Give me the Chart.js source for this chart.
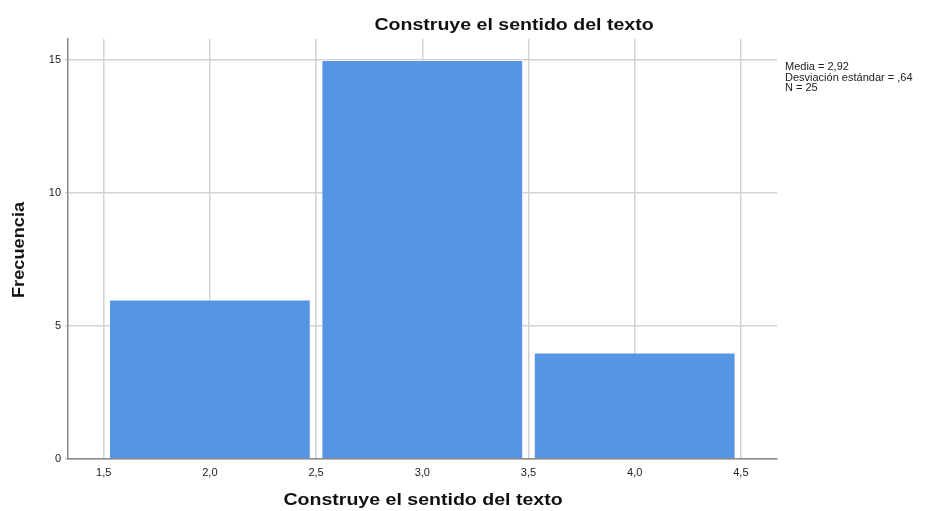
<!DOCTYPE html>
<html>
<head>
<meta charset="utf-8">
<script src="https://cdn.jsdelivr.net/npm/chart.js@4.4.0/dist/chart.umd.min.js"></script>
<style>
  html, body { margin: 0; padding: 0; background: #fff; }
  #wrap { position: relative; width: 941px; height: 511px; }
  .tit {
    position: absolute; white-space: nowrap;
    font: bold 17px "Liberation Sans", Arial, sans-serif; color: #111;
    transform-origin: center center;
  }
  #titulo { left: 514px; top: 25px; transform: translate(-50%, -50%) scaleX(1.15); }
  #xtit   { left: 423px; top: 500px; transform: translate(-50%, -50%) scaleX(1.15); }
  #ytit   { left: 19px; top: 250px; transform: translate(-50%, -50%) rotate(-90deg) scaleX(1.07); }
  #stats {
    position: absolute; left: 785px; top: 61px;
    font: 11px/10.5px "Liberation Sans", Arial, sans-serif; color: #222;
  }
</style>
</head>
<body>
<div id="wrap">
  <canvas id="hist" width="941" height="511"></canvas>
  <div class="tit" id="titulo">Construye el sentido del texto</div>
  <div class="tit" id="xtit">Construye el sentido del texto</div>
  <div class="tit" id="ytit">Frecuencia</div>
  <div id="stats">Media = 2,92<br>Desviación estándar = ,64<br>N = 25</div>
</div>
<script>
// ---- Datos del histograma ----
const binCenters  = [2.0, 3.0, 4.0];
const frecuencias = [6, 15, 4];
const xTicks      = [1.5, 2.0, 2.5, 3.0, 3.5, 4.0, 4.5];
const yTicks      = [0, 5, 10, 15];

const fuente = { family: 'Liberation Sans, Arial, sans-serif', size: 11 };
const coma = v => v.toFixed(1).replace('.', ',');

new Chart(document.getElementById('hist').getContext('2d'), {
  type: 'bar',
  data: {
    datasets: [{
      data: binCenters.map((c, i) => ({ x: c, y: frecuencias[i] })),
      backgroundColor: '#5595e3',
      borderColor: 'rgba(255,255,255,0.55)',
      borderWidth: 1,
      // el ancho de referencia es la distancia entre ticks (0,5), el bin mide 1,0
      barPercentage: 1.9,
      categoryPercentage: 1
    }]
  },
  options: {
    responsive: false,
    animation: false,
    layout: { padding: { top: 39, right: 164, left: 0, bottom: 0 } },
    plugins: { legend: { display: false }, tooltip: { enabled: false } },
    scales: {
      x: {
        type: 'linear',
        offset: false,
        min: 1.332, max: 4.67,
        afterBuildTicks: s => { s.ticks = xTicks.map(v => ({ value: v })); },
        afterFit: s => { s.height = 52; },
        grid: { color: '#d2d2d2', lineWidth: 1.5, drawTicks: false, offset: false },
        border: { color: '#8a8a8a', width: 1.5 },
        ticks: { font: fuente, color: '#222', padding: 7, callback: v => coma(v) }
      },
      y: {
        min: 0, max: 15.79,
        afterBuildTicks: s => { s.ticks = yTicks.map(v => ({ value: v })); },
        afterFit: s => { s.width = 68; },
        grid: { color: '#d2d2d2', lineWidth: 1.5, tickLength: 3 },
        border: { color: '#8a8a8a', width: 1.5 },
        ticks: { font: fuente, color: '#222', padding: 4 }
      }
    }
  }
});
</script>
</body>
</html>
